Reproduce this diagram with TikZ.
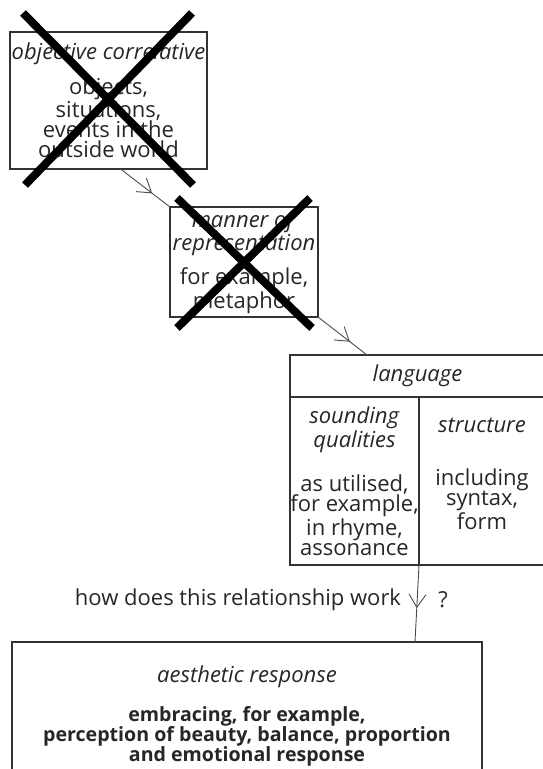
\documentclass[tikz,border=0pt]{standalone}
\usepackage{fontspec}
\setmainfont{Open Sans}
\usepackage{tikz}
\usetikzlibrary{arrows.meta,decorations.markings}

\tikzset{
  cell/.style={draw=black!80, line width=0.7pt, outer sep=0pt, inner sep=0pt, align=center,
    text=black!85, font=\fontsize{11}{10}\selectfont},
  flow/.style={draw=black!70, line width=0.45pt,
    decoration={markings, mark=at position #1 with {\arrow{Straight Barb[length=6.5pt,width=8.5pt]}}},
    postaction={decorate}},
  cross/.style={line width=4pt},
  remark/.style={text=black!85, font=\fontsize{11}{10}\selectfont}
}

\begin{document}
\begin{tikzpicture}[x=0.5pt,y=-0.5pt]
		\useasboundingbox (0,0) rectangle (542,769);
		\node[cell, minimum width=98.5pt, minimum height=68.5pt] (corr) at (108.5,100.5) {\textit{objective correlative}\\[5.5pt] objects,\\ situations,\\ events in the\\ outside world};
		\node[cell, minimum width=74pt, minimum height=55pt] (manner) at (244,262) {\textit{manner of}\\ \textit{representation}\\[5pt] for example,\\ metaphor};
		\node[cell, minimum width=127.5pt, minimum height=21pt] (lang) at (417.5,376) {\textit{language}};
		\node[cell, minimum width=64.5pt, minimum height=84pt, anchor=north west] (sound) at (lang.south west) {\textit{sounding}\\ \textit{qualities}\\[10pt] as utilised,\\ for example,\\ in rhyme,\\ assonance};
		\node[cell, minimum width=63pt, minimum height=84pt, anchor=north east, text depth=7.5pt] (struct) at (lang.south east) {\textit{structure}\\[16.5pt] including\\ syntax,\\ form};
		\node[cell, minimum width=235pt, minimum height=74pt] (aes) at (247,716) {\textit{aesthetic response}\\[8.5pt] {\fontsize{9.8}{10}\selectfont\textbf{embracing, for example,}}\\ {\fontsize{9.8}{10}\selectfont\textbf{perception of beauty, balance, proportion}}\\ {\fontsize{9.8}{10}\selectfont\textbf{and emotional response}}};
		\node[remark] (how) at (238,600) {how does this relationship work};
		\node[remark] (ask) at (443,600) {?};
		%
		\draw[flow=0.64] ([xshift=6pt]corr.south) -- (manner.north west);
		\draw[flow=0.65] (manner.south east) -- ([xshift=-25.25pt]lang.north);
		\draw[flow=0.56] (sound.south east) -- ([xshift=84pt]aes.north);
		%
		\draw[cross] (23,13) -- (193,185) (192,13) -- (25,185);
		\draw[cross] (177,198) -- (312,328) (310,198) -- (177,328);
\end{tikzpicture}
\end{document}
